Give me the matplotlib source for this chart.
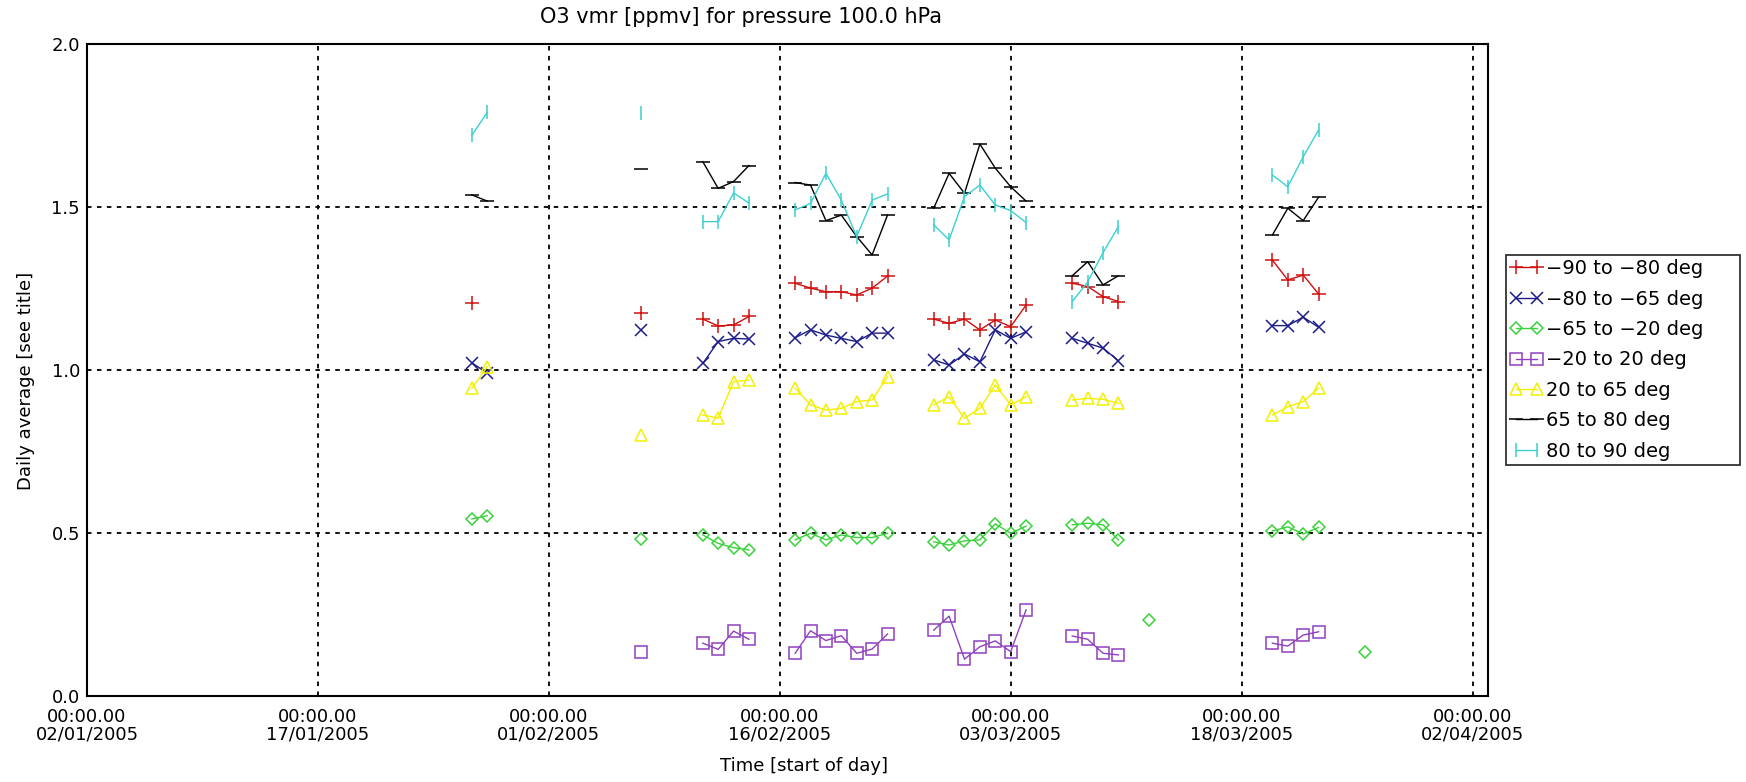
"""
Daily average O3 vmr at 100 hPa for seven latitude bands.
"""

import numpy as np
import pandas as pd
import matplotlib
matplotlib.use('Agg')
import matplotlib.pyplot as plt

nan = np.nan

# days with at least one band observed
obs_dates = ['2005-01-27', '2005-01-28', '2005-02-07',
             '2005-02-11', '2005-02-12', '2005-02-13', '2005-02-14',
             '2005-02-17', '2005-02-18', '2005-02-19', '2005-02-20',
             '2005-02-21', '2005-02-22', '2005-02-23',
             '2005-02-26', '2005-02-27', '2005-02-28', '2005-03-01',
             '2005-03-02', '2005-03-03', '2005-03-04',
             '2005-03-07', '2005-03-08', '2005-03-09', '2005-03-10',
             '2005-03-12',
             '2005-03-20', '2005-03-21', '2005-03-22', '2005-03-23',
             '2005-03-26']

band_labels = ['\u221290 to \u221280 deg', '\u221280 to \u221265 deg',
               '\u221265 to \u221220 deg', '\u221220 to 20 deg',
               '20 to 65 deg', '65 to 80 deg', '80 to 90 deg']

o3_s90_s80 = [1.205, nan, 1.175, 1.156, 1.135, 1.138, 1.164,
              1.266, 1.251, 1.240, 1.240, 1.230, 1.251, 1.288,
              1.156, 1.143, 1.156, 1.123, 1.153, 1.133, 1.199,
              1.266, 1.256, 1.225, 1.210, nan,
              1.337, 1.276, 1.291, 1.233, nan]
o3_s80_s65 = [1.022, 0.990, 1.123, 1.020, 1.087, 1.097, 1.095,
              1.099, 1.123, 1.107, 1.097, 1.087, 1.113, 1.113,
              1.031, 1.015, 1.049, 1.025, 1.123, 1.097, 1.117,
              1.097, 1.082, 1.067, 1.028, nan,
              1.136, 1.136, 1.162, 1.131, nan]
o3_s65_s20 = [0.543, 0.553, 0.480, 0.494, 0.468, 0.455, 0.448,
              0.479, 0.499, 0.479, 0.494, 0.486, 0.486, 0.499,
              0.473, 0.463, 0.476, 0.479, 0.528, 0.499, 0.521,
              0.525, 0.530, 0.525, 0.479, 0.233,
              0.506, 0.519, 0.497, 0.517, 0.136]
o3_s20_n20 = [nan, nan, 0.136, 0.162, 0.143, 0.199, 0.174,
              0.131, 0.200, 0.170, 0.185, 0.131, 0.144, 0.190,
              0.202, 0.245, 0.113, 0.151, 0.169, 0.136, 0.264,
              0.184, 0.174, 0.131, 0.126, nan,
              0.162, 0.153, 0.187, 0.197, nan]
o3_n20_n65 = [0.944, 1.010, 0.800, 0.862, 0.852, 0.964, 0.969,
              0.944, 0.893, 0.877, 0.882, 0.903, 0.908, 0.979,
              0.893, 0.918, 0.852, 0.882, 0.954, 0.893, 0.918,
              0.908, 0.913, 0.910, 0.898, nan,
              0.862, 0.887, 0.903, 0.944, nan]
o3_n65_n80 = [1.537, 1.518, 1.617, 1.639, 1.557, 1.578, 1.627,
              1.575, 1.567, 1.458, 1.475, 1.409, 1.353, 1.475,
              1.496, 1.603, 1.542, 1.693, 1.619, 1.562, 1.518,
              1.289, 1.332, 1.261, 1.289, nan,
              1.414, 1.496, 1.458, 1.530, nan]
o3_n80_n90 = [1.720, 1.790, 1.788, 1.455, 1.455, 1.543, 1.512,
              1.491, 1.511, 1.603, 1.521, 1.409, 1.521, 1.540,
              1.445, 1.399, 1.532, 1.567, 1.506, 1.489, 1.452,
              1.210, 1.270, 1.360, 1.440, nan,
              1.598, 1.562, 1.654, 1.736, nan]

tick_dates = ['2005-01-02', '2005-01-17', '2005-02-01', '2005-02-16',
              '2005-03-03', '2005-03-18', '2005-04-02']


def makePlot():
    """
    Draws the daily averages, one line per latitude band.
    """
    series = [o3_s90_s80, o3_s80_s65, o3_s65_s20, o3_s20_n20,
              o3_n20_n65, o3_n65_n80, o3_n80_n90]
    colors = ['#d01010', '#1c1c8a', '#3ad23a', '#9040c0',
              '#f2f000', '#000000', '#3cd0d0']
    markers = ['+', 'x', 'D', 's', '^', '_', '|']
    msizes = [10, 9, 6.5, 8.5, 8.5, 10, 10]

    # reindex onto every day so that gaps break the lines
    df = pd.DataFrame(dict(zip(band_labels, series)), index=pd.to_datetime(obs_dates))
    df = df.reindex(pd.date_range(df.index[0], df.index[-1], freq='D'))

    fig = plt.figure(figsize=(17.46, 7.82), dpi=100)
    ax = fig.add_axes([0.0498, 0.110, 0.8024, 0.8338])

    for label, col, mk, ms in zip(band_labels, colors, markers, msizes):
        ax.plot(df.index, df[label], color=col, marker=mk, markersize=ms,
                markerfacecolor='none', markeredgewidth=1.1, linewidth=1.0,
                label=label)

    ticks = pd.to_datetime(tick_dates)
    ax.set_xticks(ticks)
    ax.set_xticklabels(['00:00.00\n' + t.strftime('%d/%m/%Y') for t in ticks],
                       fontsize=13, linespacing=0.95)
    ax.set_xlim(pd.Timestamp('2005-01-02'), pd.Timestamp('2005-04-03'))
    ax.set_ylim(0.0, 2.0)
    ax.set_yticks([0.0, 0.5, 1.0, 1.5, 2.0])
    ax.set_yticklabels(['0.0', '0.5', '1.0', '1.5', '2.0'], fontsize=13)
    ax.tick_params(axis='x', length=0, pad=9)
    ax.tick_params(axis='y', length=0, pad=5)

    ax.grid(True, color='black', linestyle=(0, (2.5, 3)), linewidth=1.3)
    for sp in ax.spines.values():
        sp.set_linewidth(1.5)

    fig.text(0.4244, 0.978, 'O3 vmr [ppmv] for pressure 100.0 hPa',
             fontsize=15, ha='center', va='center')
    fig.text(0.4605, 0.021, 'Time [start of day]', fontsize=13,
             ha='center', va='center')
    fig.text(0.0150, 0.513, 'Daily average [see title]', fontsize=13,
             ha='center', va='center', rotation=90)

    leg = fig.legend(loc='upper left', bbox_to_anchor=(0.8625, 0.405, 0.134, 0.269),
                     mode='expand', numpoints=2, fontsize=14, frameon=True,
                     fancybox=False, edgecolor='black', borderaxespad=0,
                     handlelength=1.7, handletextpad=0.15, labelspacing=0.587,
                     borderpad=0.22)
    leg.get_frame().set_linewidth(1.3)

    fig.savefig('out.png', dpi=100)


if __name__ == '__main__':
    makePlot()
